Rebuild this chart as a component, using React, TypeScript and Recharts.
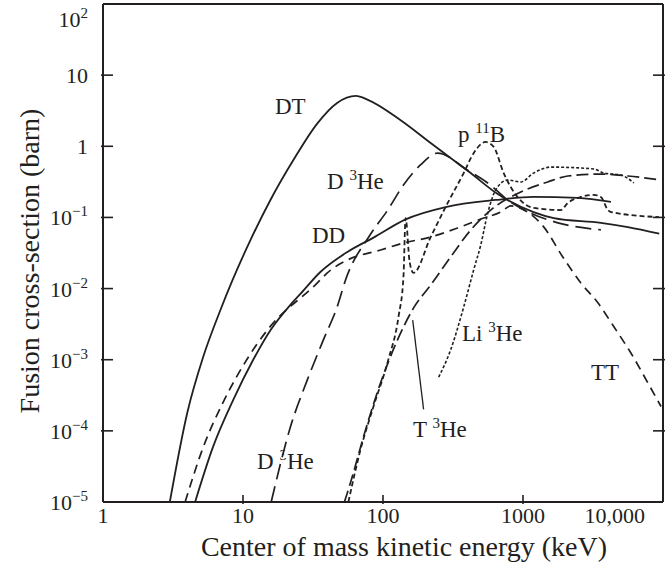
import React from 'react'
import { LineChart, Line, XAxis, YAxis, ReferenceLine } from 'recharts'

// [centre-of-mass energy (keV), cross-section (barn)]
type Pt = [number, number]

const DT: Pt[] = [
  [3.0, 1e-5], [4.0, 1.8e-4], [5.2, 1.1e-3], [6.9, 5.0e-3], [8.4, 0.013], [11.3, 0.048],
  [15.7, 0.176], [22.9, 0.64], [34, 2.1], [47, 4.06], [64, 5.1], [78, 4.5], [133, 2.34],
  [219, 1.11], [423, 0.42], [660, 0.213], [1190, 0.119], [1660, 0.098], [3600, 0.084],
  [5620, 0.073], [9400, 0.059],
]

const DD: Pt[] = [
  [4.55, 1e-5], [6.1, 5.9e-5], [8.5, 2.7e-4], [11.8, 9.9e-4], [15.7, 2.6e-3], [21.8, 5.9e-3],
  [25.7, 8.4e-3], [35.7, 0.0171], [55.7, 0.0327], [85.5, 0.052], [145, 0.094], [280, 0.14],
  [638, 0.176], [1190, 0.194], [2460, 0.188], [4250, 0.165],
]

const D3HE: Pt[] = [
  [15.9, 1e-5], [21.8, 1.13e-4], [28.8, 5.2e-4], [37.5, 1.9e-3], [47, 5.5e-3], [54, 0.0132],
  [81, 0.057], [108, 0.127], [140, 0.286], [185, 0.546], [245, 0.8], [403, 0.46], [560, 0.305],
  [778, 0.176], [1136, 0.115], [1774, 0.084], [3600, 0.067],
]

const TT: Pt[] = [
  [3.86, 1e-5], [5.2, 5.9e-5], [7.34, 2.7e-4], [10.6, 9.9e-4], [14.9, 2.6e-3],
  [34, 0.012], [40, 0.0166], [55.7, 0.0252], [96, 0.0348], [140, 0.0437], [219, 0.053],
  [341, 0.071], [524, 0.098], [693, 0.119], [817, 0.145], [1080, 0.119], [1410, 0.073],
  [1920, 0.028], [2590, 0.012], [3430, 6.3e-3], [4460, 2.9e-3], [5900, 1.24e-3],
  [7810, 4.7e-4], [9680, 2.2e-4],
]

const T3HE: Pt[] = [
  [53, 1e-5], [58.5, 1.85e-5], [72.5, 8.2e-5], [96, 4.7e-4], [127, 1.9e-3], [165, 5.3e-3],
  [219, 0.0112], [304, 0.0278], [423, 0.0665], [588, 0.127], [964, 0.228], [1500, 0.315],
  [2090, 0.382], [3600, 0.407], [5620, 0.382], [9680, 0.336],
]

const P11B: Pt[] = [
  [56.6, 1e-5], [69, 5.4e-5], [85.5, 2.2e-4], [109, 9.9e-4], [129, 4.0e-3], [140, 0.0145],
  [145, 0.098], [155, 0.0236], [165, 0.0166], [219, 0.053], [290, 0.16], [377, 0.42],
  [444, 0.8], [541, 1.15], [618, 0.98], [728, 0.42], [817, 0.268], [1190, 0.136],
  [1860, 0.127], [2090, 0.16], [2590, 0.194], [3210, 0.207], [3600, 0.194], [4040, 0.127],
  [4250, 0.119], [9360, 0.101],
]

const LI3HE: Pt[] = [
  [250, 5.7e-4], [304, 1.37e-3], [377, 5.5e-3], [444, 0.0182], [499, 0.041], [560, 0.115],
  [638, 0.243], [778, 0.336], [964, 0.315], [1190, 0.42], [1580, 0.51], [3210, 0.48],
  [3780, 0.42], [5000, 0.394], [6200, 0.305],
]

const xTicks = [1, 10, 100, 1000, 10000]
const xTickLabels = ['1', '10', '100', '1000', '10,000']
const yTicks = [1e-5, 1e-4, 1e-3, 1e-2, 1e-1, 1, 10, 100]
const yTickLabels: [string, string][] = [
  ['10', '−5'], ['10', '−4'], ['10', '−3'], ['10', '−2'], ['10', '−1'], ['1', ''], ['10', ''], ['10', '2'],
]

const INK = '#231f20'
const FONT = '"Liberation Serif", "Times New Roman", serif'

const rows = (pts: Pt[]) => pts.map(([e, s]) => ({ e, s }))

const series = [
  { key: 'DT', pts: DT, dash: undefined as string | undefined, w: 1.8 },
  { key: 'DD', pts: DD, dash: undefined, w: 1.8 },
  { key: 'D3He', pts: D3HE, dash: '16 7', w: 1.7 },
  { key: 'TT', pts: TT, dash: '9 6', w: 1.7 },
  { key: 'T3He', pts: T3HE, dash: '12 5', w: 1.7 },
  { key: 'p11B', pts: P11B, dash: '5 3', w: 1.8 },
  { key: 'Li3He', pts: LI3HE, dash: '3 2', w: 1.6 },
]

function XTick({ x, y, payload }: any) {
  const i = xTicks.indexOf(payload.value)
  const edge = i === 0 || i === xTicks.length - 1
  return (
    <g>
      {!edge && <line x1={x} x2={x} y1={y} y2={y - 9} stroke={INK} strokeWidth={1.6} />}
      <text
        x={x}
        y={y + 19}
        textAnchor={i === xTicks.length - 1 ? 'end' : 'middle'}
        fontFamily={FONT}
        fontSize={22}
        fill={INK}
      >
        {xTickLabels[i]}
      </text>
    </g>
  )
}

function YTick({ x, y, payload }: any) {
  const i = yTicks.indexOf(payload.value)
  const [base, exp] = yTickLabels[i] ?? ['', '']
  const top = i === yTicks.length - 1
  const bottom = i === 0
  return (
    <g>
      {!top && !bottom && <line x1={x} x2={x + 12} y1={y} y2={y} stroke={INK} strokeWidth={1.6} />}
      <text x={x - 13} y={y + (top ? 18 : 8)} textAnchor="end" fontFamily={FONT} fontSize={22} fill={INK}>
        {base}
        {exp && (
          <tspan dy={-9} fontSize={15}>
            {exp}
          </tspan>
        )}
      </text>
    </g>
  )
}

function RightTick({ x, y, payload }: any) {
  const i = yTicks.indexOf(payload.value)
  if (i <= 0 || i === yTicks.length - 1) return <g />
  return <line x1={x - 12} x2={x} y1={y} y2={y} stroke={INK} strokeWidth={1.6} />
}

// curve name with a raised mass number before the element
function Tag({ x, y, pre, sup, post, halo }: { x: number; y: number; pre: string; sup?: string; post?: string; halo?: boolean }) {
  return (
    <text
      x={x}
      y={y}
      fontFamily={FONT}
      fontSize={23}
      fill={INK}
      stroke={halo ? '#fff' : undefined}
      strokeWidth={halo ? 7 : undefined}
      paintOrder="stroke"
    >
      {pre}
      {sup && (
        <tspan dy={-9} fontSize={15}>
          {sup}
        </tspan>
      )}
      {post && <tspan dy={sup ? 9 : 0}>{post}</tspan>}
    </text>
  )
}

export default function App() {
  return (
    <div style={{ position: 'absolute', left: 0, top: 0, background: '#fff' }}>
      <LineChart width={665} height={566} margin={{ top: 0, right: 0, bottom: 0, left: 0 }}>
        <XAxis
          dataKey="e"
          type="number"
          scale="log"
          domain={[1, 10000]}
          ticks={xTicks}
          allowDataOverflow
          height={64}
          tickSize={0}
          tickLine={false}
          tick={<XTick />}
          axisLine={{ stroke: INK, strokeWidth: 2 }}
        />
        <XAxis
          xAxisId="top"
          orientation="top"
          type="number"
          scale="log"
          domain={[1, 10000]}
          allowDataOverflow
          height={4}
          tick={false}
          tickLine={false}
          axisLine={{ stroke: INK, strokeWidth: 2 }}
        />
        <YAxis
          type="number"
          scale="log"
          domain={[1e-5, 100]}
          ticks={yTicks}
          allowDataOverflow
          width={103}
          tickSize={0}
          tickLine={false}
          tick={<YTick />}
          axisLine={{ stroke: INK, strokeWidth: 2 }}
        />
        <YAxis
          yAxisId="right"
          orientation="right"
          type="number"
          scale="log"
          domain={[1e-5, 100]}
          ticks={yTicks}
          allowDataOverflow
          width={2}
          tickSize={0}
          tickLine={false}
          tick={<RightTick />}
          axisLine={{ stroke: INK, strokeWidth: 2 }}
        />
        {series.map((s) => (
          <Line
            key={s.key}
            name={s.key}
            data={rows(s.pts)}
            dataKey="s"
            type="monotone"
            stroke={INK}
            strokeWidth={s.w}
            strokeDasharray={s.dash}
            dot={false}
            activeDot={false}
            isAnimationActive={false}
          />
        ))}
        {/* leader from the T3He label to its curve */}
        <ReferenceLine
          segment={[
            { x: 163, y: 3.6e-3 },
            { x: 195, y: 2.0e-4 },
          ]}
          stroke={INK}
          strokeWidth={1.3}
        />
        <g>
          <Tag x={275} y={114} pre="DT" />
          <Tag x={327} y={189} pre="D " sup="3" post="He" />
          <Tag x={312} y={243} pre="DD" />
          <Tag x={458} y={142} pre="p " sup="11" post="B" />
          <Tag x={462} y={341} pre="Li " sup="3" post="He" />
          <Tag x={413} y={437} pre="T " sup="3" post="He" />
          <Tag x={591} y={380} pre="TT" />
          <Tag x={257} y={469} pre="D " sup="3" post="He" halo />
          <text x={404} y={556} textAnchor="middle" fontFamily={FONT} fontSize={28} fill={INK}>
            Center of mass kinetic energy (keV)
          </text>
          <text
            transform="translate(39, 261) rotate(-90)"
            textAnchor="middle"
            fontFamily={FONT}
            fontSize={28}
            fill={INK}
          >
            Fusion cross-section (barn)
          </text>
        </g>
      </LineChart>
    </div>
  )
}
